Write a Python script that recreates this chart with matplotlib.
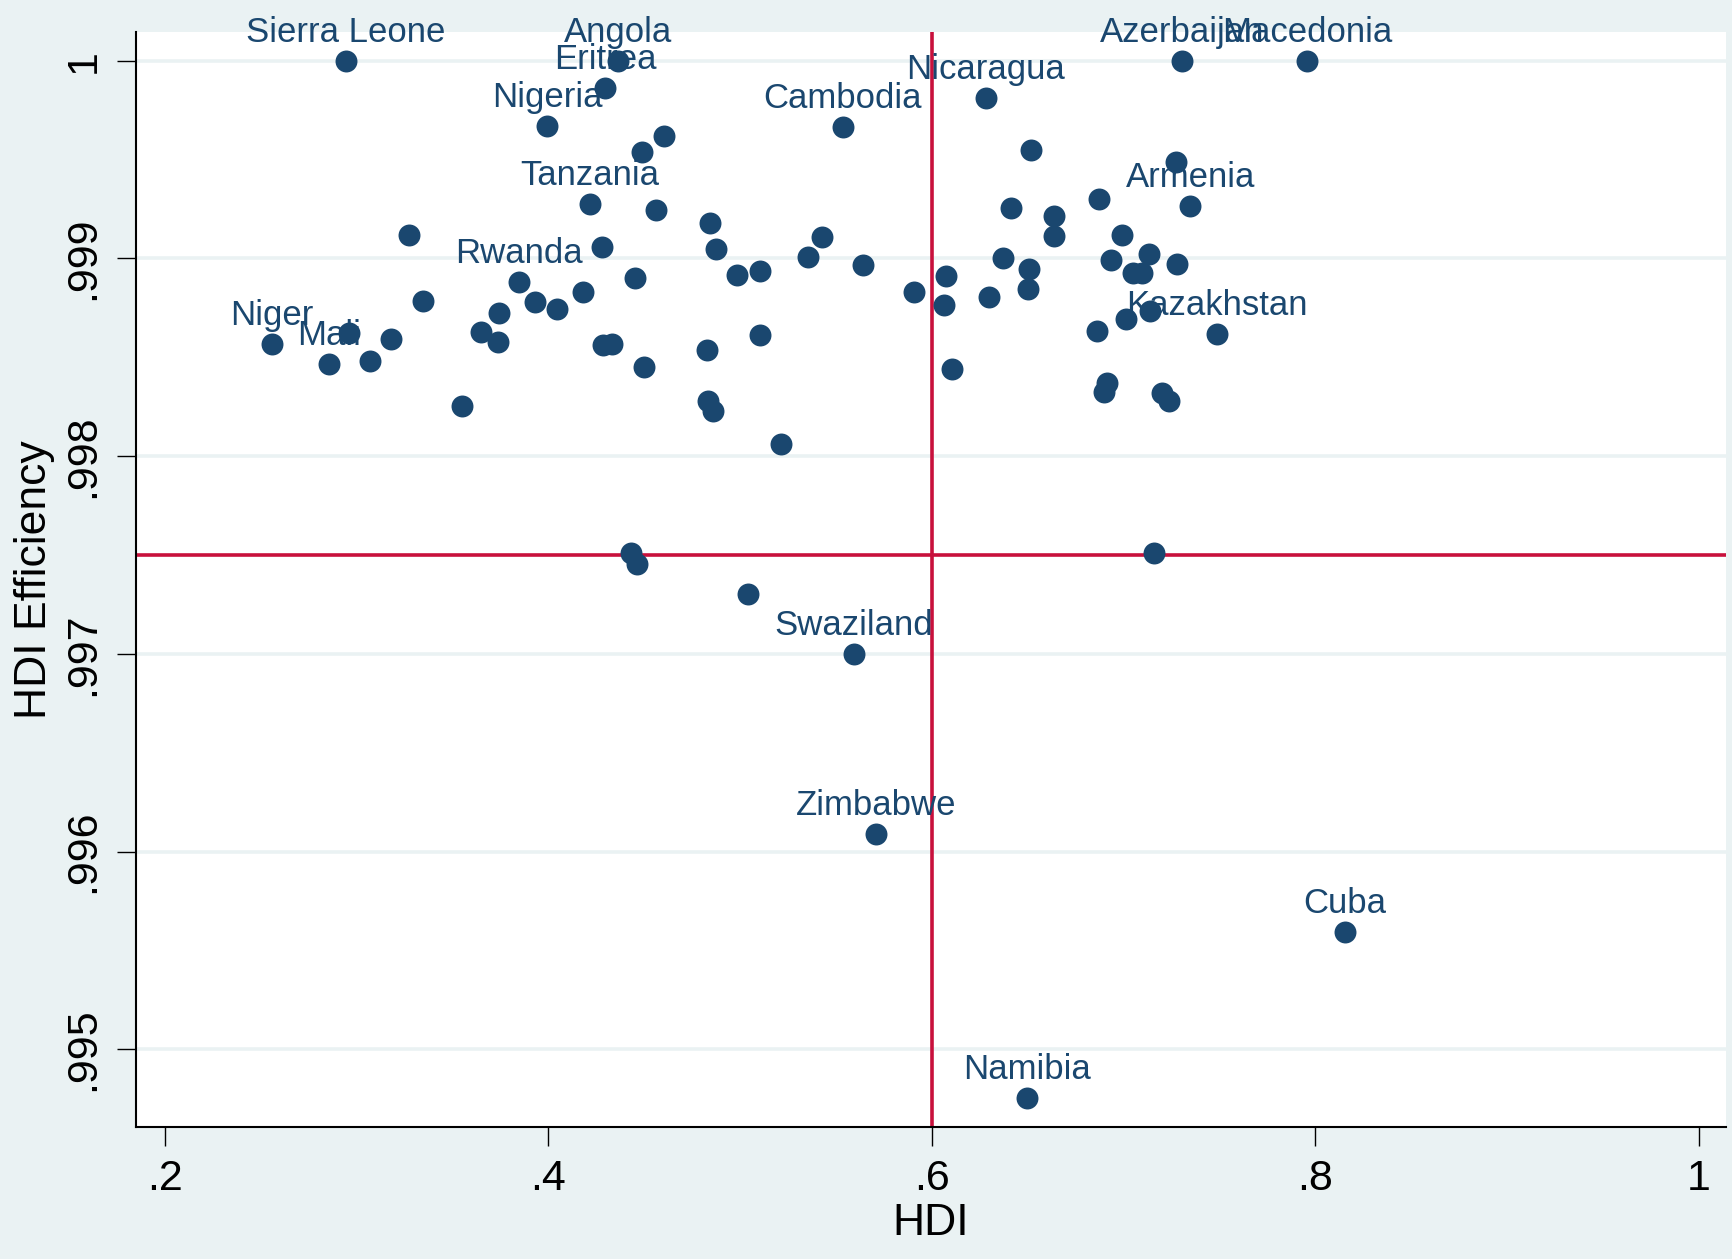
import matplotlib
matplotlib.use("Agg")
import matplotlib.pyplot as plt
from matplotlib.ticker import FuncFormatter

# HDI vs HDI efficiency, one entry per country ('' = no label)
hdi = [0.2945, 0.4366, 0.4296, 0.3995, 0.4605, 0.4490, 0.4217, 0.4564, 0.4846, 0.3276,
       0.4282, 0.4875, 0.4985, 0.3846, 0.4453, 0.3932, 0.4046, 0.4179, 0.3345, 0.3742,
       0.3649, 0.3738, 0.4287, 0.4332, 0.4828, 0.4500, 0.2560, 0.2963, 0.2858, 0.3070,
       0.3180, 0.3552, 0.4835, 0.4858, 0.5103, 0.5356, 0.5426, 0.5643, 0.5907, 0.5103,
       0.5214, 0.5536, 0.6281, 0.6516, 0.7274, 0.7349, 0.6873, 0.6413, 0.6638, 0.6638,
       0.6990, 0.6373, 0.6506, 0.6936, 0.7133, 0.7050, 0.7094, 0.7281, 0.6076, 0.6064,
       0.6299, 0.6502, 0.6861, 0.7012, 0.7136, 0.7489, 0.6104, 0.6912, 0.6900, 0.7199,
       0.7236, 0.7305, 0.7957, 0.4430, 0.4461, 0.5040, 0.7159, 0.5592, 0.5711, 0.8153,
       0.6498]
efficiency = [1.0000, 1.0000, 0.99986, 0.99967, 0.99962, 0.99954, 0.999275, 0.999245, 0.999179, 0.999118,
              0.999056, 0.999046, 0.998918, 0.998879, 0.998900, 0.998778, 0.998745, 0.998828, 0.998783, 0.998722,
              0.998627, 0.998576, 0.998563, 0.998566, 0.998538, 0.998449, 0.998566, 0.998624, 0.998466, 0.998482,
              0.998594, 0.998253, 0.998281, 0.998230, 0.998935, 0.999007, 0.999107, 0.998968, 0.998829, 0.998611,
              0.998060, 0.999663, 0.999813, 0.999547, 0.999488, 0.999267, 0.999300, 0.999256, 0.999214, 0.999112,
              0.999118, 0.999000, 0.998948, 0.998990, 0.999025, 0.998928, 0.998928, 0.998973, 0.998912, 0.998764,
              0.998805, 0.998847, 0.998634, 0.998694, 0.998735, 0.998616, 0.998439, 0.998368, 0.998326, 0.998321,
              0.998280, 1.0000, 1.0000, 0.997508, 0.997453, 0.997302, 0.997508, 0.996999, 0.996087, 0.995594,
              0.994755]
country = ["Sierra Leone", "Angola", "Eritrea", "Nigeria", "", "", "Tanzania", "", "", "",
           "", "", "", "Rwanda", "", "", "", "", "", "",
           "", "", "", "", "", "", "Niger", "", "Mali", "",
           "", "", "", "", "", "", "", "", "", "",
           "", "Cambodia", "Nicaragua", "", "", "Armenia", "", "", "", "",
           "", "", "", "", "", "", "", "", "", "",
           "", "", "", "", "", "Kazakhstan", "", "", "", "",
           "", "Azerbaijan", "Macedonia", "", "", "", "", "Swaziland", "Zimbabwe", "Cuba",
           "Namibia"]

hdi_cut = 0.6
eff_cut = 0.9975
xticks = [0.2, 0.4, 0.6, 0.8, 1.0]
yticks = [0.995, 0.996, 0.997, 0.998, 0.999, 1.0]

navy = "#1A476F"
bg = "#EAF2F3"
plt.rcParams["font.family"] = ["Liberation Sans", "DejaVu Sans"]

fig = plt.figure(figsize=(17.32, 12.59), dpi=100, facecolor=bg)
ax = fig.add_axes([136 / 1732, 1 - 1126.7 / 1259, 1590 / 1732, 1095 / 1259])
ax.set_facecolor("white")

for v in yticks:
    ax.axhline(v, color=bg, lw=2.6, zorder=0.5)
ax.axvline(hdi_cut, color="#C8103C", lw=2.6, zorder=1)
ax.axhline(eff_cut, color="#C8103C", lw=2.6, zorder=1)

ax.plot(hdi, efficiency, "o", color=navy, markersize=15.8, markeredgewidth=0, zorder=3)
for x, y, name in zip(hdi, efficiency, country):
    if name:
        ax.annotate(name, (x, y), xytext=(0, 13.7), textcoords="offset points",
                    ha="center", va="baseline", fontsize=25, color=navy, zorder=2,
                    annotation_clip=False)

ax.set_xlim(0.185, 1.0142)
ax.set_ylim(0.994608, 1.000147)
ax.set_xticks(xticks)
ax.set_yticks(yticks)
fmt = FuncFormatter(lambda v, p: f"{v:g}".lstrip("0") if v < 1 else f"{v:g}")
ax.xaxis.set_major_formatter(fmt)
ax.yaxis.set_major_formatter(fmt)
ax.tick_params(direction="out", length=13.5, width=1, labelsize=31, pad=10)
plt.setp(ax.get_yticklabels(), rotation=90, va="center")

for s in ["top", "right"]:
    ax.spines[s].set_visible(False)
for s in ["left", "bottom"]:
    ax.spines[s].set_linewidth(1.5)

ax.set_xlabel("HDI", fontsize=32)
ax.set_ylabel("HDI Efficiency", fontsize=32)
ax.xaxis.set_label_coords(0.5, -0.07)
ax.yaxis.set_label_coords(-0.051, 0.5)

fig.savefig("out.png", dpi=100, facecolor=bg)
